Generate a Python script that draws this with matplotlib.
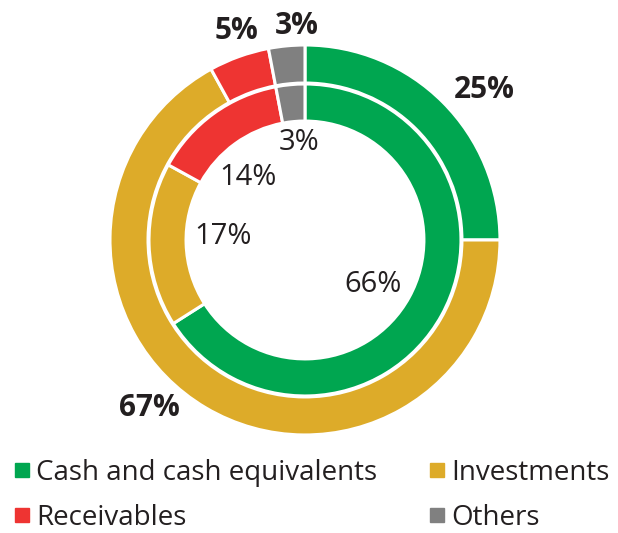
import matplotlib.pyplot as plt
from matplotlib.lines import Line2D

plt.rcParams['font.family'] = ['Open Sans', 'DejaVu Sans']

# data
categories = ['Cash and cash equivalents', 'Investments', 'Receivables', 'Others']
outer_values = [25, 67, 5, 3]
inner_values = [66, 17, 14, 3]
colors = ['#00a650', '#ddab29', '#ee3432', '#808080']

# label anchors (data coords, unit = outer radius)
outer_label_pos = [(0.92, 0.77), (-0.80, -0.86), (-0.35, 1.07), (-0.04, 1.10)]
inner_label_pos = [(0.35, -0.23), (-0.42, 0.02), (-0.29, 0.32), (-0.03, 0.50)]

TEXT = '#231f20'

fig = plt.figure(figsize=(6.18, 5.33), dpi=100)
ax = fig.add_axes([0.178, 0.1839, 0.631, 0.7317])
ax.axis('off')

wedge = dict(edgecolor='white', linewidth=2.2)
ax.pie(outer_values, radius=1.0, colors=colors, startangle=90,
       counterclock=False, wedgeprops=dict(width=0.195, **wedge))
ax.pie(inner_values, radius=0.8, colors=colors, startangle=90,
       counterclock=False, wedgeprops=dict(width=0.19, **wedge))
ax.set_xlim(-1, 1)
ax.set_ylim(-1, 1)
ax.set_aspect('equal')

for v, (x, y) in zip(outer_values, outer_label_pos):
    ax.text(x, y, f'{v}%', ha='center', va='center', fontsize=21.5,
            fontweight='bold', color=TEXT)
for v, (x, y) in zip(inner_values, inner_label_pos):
    ax.text(x, y, f'{v}%', ha='center', va='center', fontsize=21,
            color=TEXT)

# legend laid out row-wise: Cash | Investments, Receivables | Others
order = [0, 2, 1, 3]
handles = [Line2D([], [], marker='s', linestyle='none', markersize=10,
                  markerfacecolor=colors[i], markeredgecolor=colors[i])
           for i in order]
labels = [categories[i] for i in order]
fig.legend(handles, labels, ncol=2, loc='lower left',
           bbox_to_anchor=(-0.02, -0.045), frameon=False, fontsize=20,
           labelcolor=TEXT, handletextpad=0.15, columnspacing=1.8,
           handlelength=0.7, labelspacing=0.62)

fig.savefig('out.png', dpi=100, facecolor='white')
